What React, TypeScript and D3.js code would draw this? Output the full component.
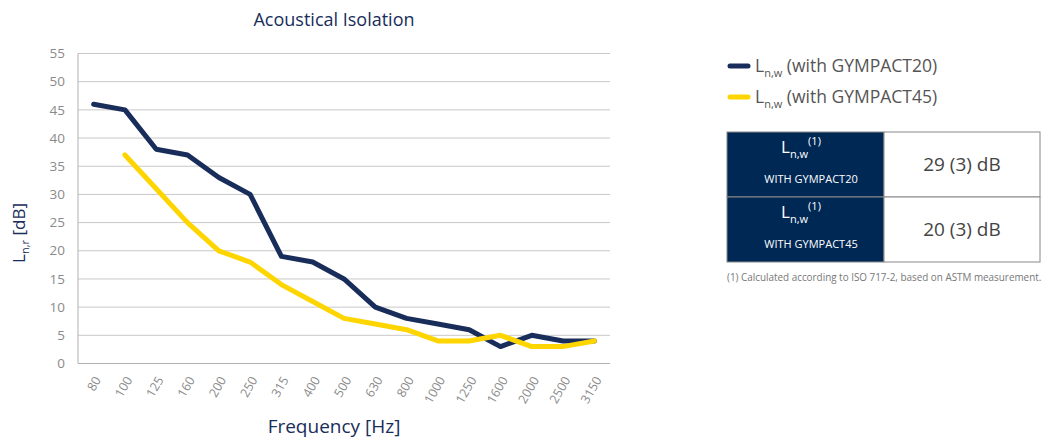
import { useEffect, useRef } from "react";
import * as d3 from "d3";

// data
const frequencies = ["80", "100", "125", "160", "200", "250", "315", "400", "500", "630", "800", "1000", "1250", "1600", "2000", "2500", "3150"];
const gympact20 = [46, 45, 38, 37, 33, 30, 19, 18, 15, 10, 8, 7, 6, 3, 5, 4, 4];
const gympact45 = [null, 37, 31, 25, 20, 18, 14, 11, 8, 7, 6, 4, 4, 5, 3, 3, 4];
const yTicks = [0, 5, 10, 15, 20, 25, 30, 35, 40, 45, 50, 55];
const seriesNames = ["GYMPACT20", "GYMPACT45"];
const tableValues = ["29 (3) dB", "20 (3) dB"];

const navy = "#182d5a";
const yellow = "#ffd500";
const tableNavy = "#002855";
const font = "'Open Sans', sans-serif";

function Chart() {
	const ref = useRef<SVGGElement>(null);

	useEffect(() => {
		const g = d3.select(ref.current);
		g.selectAll("*").remove();

		const margin = { left: 78, right: 610, top: 53.5, bottom: 363.5 };

		const x = d3.scaleBand<string>().domain(frequencies).range([margin.left, margin.right]);
		const y = d3.scaleLinear().domain([0, 55]).range([margin.bottom, margin.top]);
		const cx = (f: string) => (x(f) as number) + x.bandwidth() / 2;

		// gridlines
		g.append("g")
			.selectAll("line")
			.data(yTicks)
			.enter()
			.append("line")
			.attr("x1", margin.left)
			.attr("x2", margin.right)
			.attr("y1", (d) => y(d))
			.attr("y2", (d) => y(d))
			.attr("stroke", (d) => (d === 0 ? "#b0b0b0" : "#c8c8c8"))
			.attr("stroke-width", 1);

		// y axis line
		g.append("line")
			.attr("x1", margin.left)
			.attr("x2", margin.left)
			.attr("y1", margin.top)
			.attr("y2", margin.bottom)
			.attr("stroke", "#b0b0b0");

		// y tick labels
		g.append("g")
			.selectAll("text")
			.data(yTicks)
			.enter()
			.append("text")
			.attr("x", 65)
			.attr("y", (d) => y(d))
			.attr("dy", "0.35em")
			.attr("text-anchor", "end")
			.attr("font-family", font)
			.attr("font-size", 13.5)
			.attr("fill", "#8a8a8a")
			.text((d) => d);

		// x tick labels
		g.append("g")
			.selectAll("text")
			.data(frequencies)
			.enter()
			.append("text")
			.attr("transform", (d) => `translate(${cx(d) + 4},${margin.bottom + 14}) rotate(-60)`)
			.attr("text-anchor", "end")
			.attr("dy", "0.35em")
			.attr("font-family", font)
			.attr("font-size", 12.5)
			.attr("fill", "#8a8a8a")
			.text((d) => d);

		// lines
		const line = d3
			.line<number | null>()
			.defined((d) => d !== null)
			.x((_, i) => cx(frequencies[i]))
			.y((d) => y(d as number));

		[gympact20, gympact45].forEach((s, i) => {
			g.append("path")
				.attr("d", line(s))
				.attr("fill", "none")
				.attr("stroke", i === 0 ? navy : yellow)
				.attr("stroke-width", 5)
				.attr("stroke-linecap", "round")
				.attr("stroke-linejoin", "round");
		});
	}, []);

	return <g ref={ref} />;
}

export default function App() {
	const sub = { fontSize: 11 };
	return (
		<div style={{ position: "absolute", left: 0, top: 0, width: 1045, height: 438 }}>
			<svg width={1045} height={438} style={{ display: "block" }} fontFamily={font}>
				<Chart />
				<text x={334} y={26} textAnchor="middle" fontSize={18} fill={navy}>
					Acoustical Isolation
				</text>
				<text x={334} y={433} textAnchor="middle" fontSize={19} fill={navy}>
					Frequency [Hz]
				</text>
				<text transform="translate(25,233) rotate(-90)" textAnchor="middle" fontSize={17} fill={navy}>
					L<tspan dy={4} style={sub}>n,r</tspan>
					<tspan dy={-4}> [dB]</tspan>
				</text>

				{/* legend */}
				{seriesNames.map((n, i) => (
					<g key={n} transform={`translate(0,${66 + i * 31})`}>
						<line x1={730} x2={748} y1={0} y2={0} stroke={i === 0 ? navy : yellow} strokeWidth={5} strokeLinecap="round" />
						<text x={755} y={6} fontSize={17.5} fill="#555">
							L<tspan dy={5} style={sub}>n,w</tspan>
							<tspan dy={-5}> (with {n})</tspan>
						</text>
					</g>
				))}

				{/* table */}
				{seriesNames.map((n, i) => {
					const top = 132 + i * 65;
					return (
						<g key={"t" + n}>
							<rect x={727} y={top} width={157} height={65} fill={tableNavy} stroke="#888" strokeWidth={1} />
							<rect x={884} y={top} width={156} height={65} fill="#fff" stroke="#888" strokeWidth={1} />
							<text x={801} y={top + 21} textAnchor="middle" fontSize={17} fill="#fff">
								L<tspan dy={5} style={sub}>n,w</tspan>
								<tspan dy={-13} style={sub}>(1)</tspan>
							</text>
							<text x={811} y={top + 51} textAnchor="middle" fontSize={11} fill="#fff">
								WITH {n}
							</text>
							<text x={962} y={top + 39} textAnchor="middle" fontSize={19} fill="#444">
								{tableValues[i]}
							</text>
						</g>
					);
				})}
				<text x={727} y={281} fontSize={9.9} fill="#777">
					(1) Calculated according to ISO 717-2, based on ASTM measurement.
				</text>
			</svg>
		</div>
	);
}
